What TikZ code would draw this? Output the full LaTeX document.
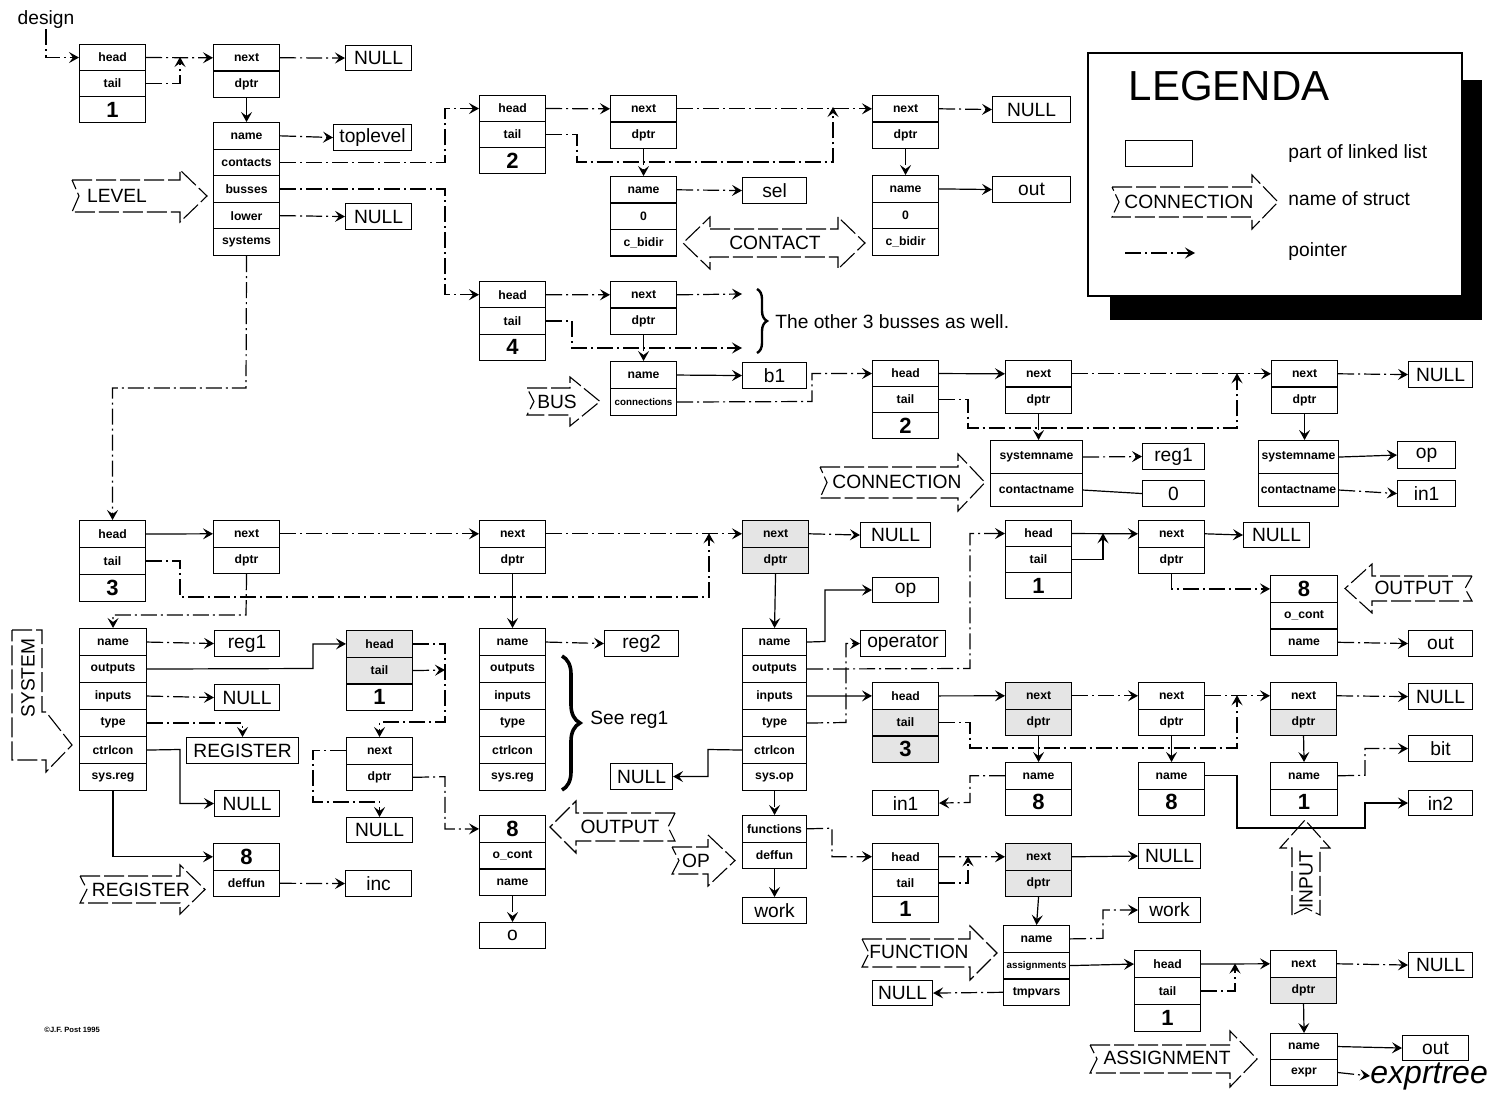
\documentclass[tikz,border=0pt]{standalone}
\usepackage{fontspec}
\setmainfont{Liberation Sans}
\usetikzlibrary{arrows.meta,calc,decorations.pathreplacing}
\pgfdeclarelayer{bg}
\pgfsetlayers{bg,main}
\newcommand\ffont{\fontsize{6.1}{7}\selectfont\bfseries}
\newcommand\sfont{\fontsize{4.9}{6}\selectfont\bfseries}
\newcommand\nfont{\fontsize{11}{12}\selectfont\bfseries}
\newcommand\vfont{\fontsize{9.6}{11}\selectfont}
\newcommand\cl[6]{\node[cell,minimum width=#4*0.5pt,minimum height=#5*0.5pt] (#1) at (#2,#3) {#6};}
\newcommand\hdr[5]{\cl{#1H}{#2}{#3}{66}{#5}{head}\cl{#1T}{#2}{#3+#5}{66}{#5}{tail}\cl{#1C}{#2}{#3+2*#5}{66}{#5}{\nfont #4}}
\newcommand\nd[3]{\cl{#1N}{#2}{#3}{66}{26.5}{next}\cl{#1D}{#2}{#3+26.5}{66}{26.5}{dptr}}
\newcommand\vb[6]{\node[vbox,minimum width=#4*0.5pt,minimum height=#5*0.5pt] (#1) at (#2,#3) {#6};}
\newcommand\rarr[6]{\draw[shp] (#1,#3) -- (#2,#3) -- (#2,#3-#5) -- (#6,{(#3+#4)/2}) -- (#2,#4+#5) -- (#2,#4) -- (#1,#4) -- ({#1+7},{(#3+#4)/2}) -- cycle;}
\newcommand\larr[6]{\draw[shp] (#1,#3) -- (#2,#3) -- (#2,#3-#5) -- (#6,{(#3+#4)/2}) -- (#2,#4+#5) -- (#2,#4) -- (#1,#4) -- ({#1-7},{(#3+#4)/2}) -- cycle;}
\tikzset{
  cell/.style={draw,line width=0.55pt,anchor=north west,inner sep=0pt,font=\ffont},
  vbox/.style={draw,line width=0.55pt,anchor=north west,inner sep=0pt,font=\vfont},
  lbl/.style={inner sep=0pt,font=\vfont},
  shp/.style={draw,line width=0.55pt,dash pattern=on 10pt off 2pt},
  ptr/.style={line width=0.6pt,dash pattern=on 8pt off 2pt on 1pt off 2pt,-{Stealth[length=5pt,width=5.5pt,inset=2pt]}},
  sptr/.style={line width=0.6pt,-{Stealth[length=5pt,width=5.5pt,inset=2pt]}},
  plain/.style={line width=0.6pt},
  brc/.style={decorate,decoration={brace,amplitude=#1}},
}
\begin{document}
\begin{tikzpicture}[x=0.5pt,y=-0.5pt]
\begin{pgfonlayer}{bg}
\fill[white] (0,0) rectangle (1499,1101);
\end{pgfonlayer}
\useasboundingbox (0,0) rectangle (1499,1101);

% ---------- legend ----------
\fill[black] (1110,80) rectangle (1482,320);
\draw[fill=white,line width=0.55pt] (1088,53) rectangle (1462,296);
\node[inner sep=0pt,font=\fontsize{21}{24}\selectfont] (legt) at (1229,86) {LEGENDA};
\node[draw,line width=0.55pt,minimum width=33.5pt,minimum height=13pt,anchor=north west,inner sep=0pt] (lgbox) at (1125,140) {};
\node[lbl,anchor=west] (lg1t) at (1288,154) {part of linked list};
\rarr{1112}{1252}{187}{217}{12}{1278}
\node[lbl] (lgconn) at (1189,202) {CONNECTION};
\node[lbl,anchor=west] (lg2t) at (1288,199) {name of struct};
\coordinate (lgp1) at (1125,253);
\coordinate (lgp2) at (1195,253);
\draw[ptr] (lgp1) -- (lgp2);
\node[lbl,anchor=west] (lg3t) at (1288,252) {pointer};

% ---------- top left: design / LEVEL ----------
\node[lbl] (design) at (46,20) {design};
\hdr{a}{79}{44}{1}{26}
\nd{b}{213}{44}
\vb{vNull1}{345}{45}{66}{25}{NULL}
\cl{lvName}{213}{122}{66}{26.6}{name}
\cl{lvCont}{213}{148.6}{66}{26.6}{contacts}
\cl{lvBus}{213}{175.2}{66}{26.6}{busses}
\cl{lvLow}{213}{201.8}{66}{26.6}{lower}
\cl{lvSys}{213}{228.4}{66}{26.6}{systems}
\vb{vTop}{333}{124}{78}{26}{toplevel}
\vb{vNull2}{345}{203}{66}{26}{NULL}
\rarr{72}{180}{180}{212}{10}{207}
\node[lbl] (llevel) at (117,196) {LEVEL};

% ---------- contacts ----------
\hdr{d}{479}{95}{2}{26}
\nd{e}{610}{95}
\cl{c1Name}{610}{176}{66}{26.5}{name}
\cl{c1Zero}{610}{202.5}{66}{26.5}{0}
\cl{c1Bid}{610}{229}{66}{26.5}{c\_bidir}
\vb{vSel}{742}{177}{64}{26}{sel}
\nd{f}{872}{95}
\vb{vNull3}{992}{96}{78}{26}{NULL}
\cl{c2Name}{872}{175}{66}{26.7}{name}
\cl{c2Zero}{872}{201.7}{66}{26.7}{0}
\cl{c2Bid}{872}{228.4}{66}{26.7}{c\_bidir}
\vb{vOut1}{992}{176}{78}{26}{out}
\draw[shp] (710,229) -- (838,229) -- (838,217) -- (865,243) -- (838,269) -- (838,257) -- (710,257) -- (710,269) -- (683,243) -- (710,217) -- cycle;
\node[lbl] (lcontact) at (775,243) {CONTACT};

% ---------- busses ----------
\hdr{g}{479}{281}{4}{26.3}
\nd{h}{610}{281}
\cl{busName}{610}{361}{66}{27}{name}
\cl{busConn}{610}{388}{66}{27}{\sfont connections}
\vb{vB1}{742}{362}{64}{26}{b1}
\rarr{527}{570}{388}{415}{11}{600}
\node[lbl] (lbus) at (557,402) {BUS};
\draw[brc=5pt,line width=1.2pt] (757,289) -- (757,353);
\node[lbl,anchor=west] (other) at (775,322) {The other 3 busses as well.};

% ---------- connections ----------
\hdr{j}{872}{360}{2}{26}
\nd{k}{1005}{360}
\nd{l}{1271}{360}
\vb{vNull4}{1408}{361}{64}{26}{NULL}
\cl{cn1Sys}{990}{440}{92}{33}{systemname}
\cl{cn1Con}{990}{473}{92}{33}{contactname}
\vb{vReg1b}{1142}{443}{62}{26}{reg1}
\vb{vZero}{1142}{480}{62}{26}{0}
\cl{cn2Sys}{1258}{440}{80}{33}{systemname}
\cl{cn2Con}{1258}{473}{80}{33}{contactname}
\vb{vOp2}{1397}{441}{58}{27}{op}
\vb{vIn1b}{1397}{480}{58}{26}{in1}
\rarr{820}{958}{467}{498}{13}{985}
\node[lbl] (lconn) at (897,482) {CONNECTION};

% ---------- systems ----------
\hdr{p}{79}{520}{3}{27}
\nd{q}{213}{520}
\nd{r}{479}{520}
\nd{s}{742}{520}
\vb{vNull5}{860}{522}{70}{25}{NULL}
\cl{s1Name}{79}{628}{67}{27}{name}
\cl{s1Out}{79}{655}{67}{27}{outputs}
\cl{s1In}{79}{682}{67}{27}{inputs}
\cl{s1Type}{79}{709}{67}{27}{type}
\cl{s1Ctrl}{79}{736}{67}{27}{ctrlcon}
\cl{s1Reg}{79}{763}{67}{27}{sys.reg}
\vb{vReg1}{214}{630}{65}{26}{reg1}
\vb{vNull6}{214}{684}{65}{26}{NULL}
\vb{vRegister}{186}{737}{112}{26}{REGISTER}
\vb{vNull7}{214}{790}{65}{26}{NULL}
\hdr{u}{346}{630}{1}{26.7}
\nd{w}{346}{737}
\vb{vNull8}{346}{817}{66}{25}{NULL}
\cl{rgNum}{213}{843}{66}{26.5}{\nfont 8}
\cl{rgDef}{213}{869.5}{66}{26.5}{deffun}
\vb{vInc}{345}{870}{66}{26}{inc}
\draw[shp] (12,630) -- (42,630) -- (42,712) -- (46,712) -- (72,745) -- (46,772) -- (46,760) -- (12,760) -- cycle;
\node[lbl,rotate=90] (lsystem) at (28,678) {SYSTEM};
\rarr{80}{180}{876}{903}{11}{205}
\node[lbl] (lregister) at (141,890) {REGISTER};

\cl{s2Name}{479}{628}{66}{27}{name}
\cl{s2Out}{479}{655}{66}{27}{outputs}
\cl{s2In}{479}{682}{66}{27}{inputs}
\cl{s2Type}{479}{709}{66}{27}{type}
\cl{s2Ctrl}{479}{736}{66}{27}{ctrlcon}
\cl{s2Reg}{479}{763}{66}{27}{sys.reg}
\vb{vReg2}{604}{630}{74}{26}{reg2}
\draw[brc=9pt,line width=1.8pt] (562,656) -- (562,790);
\node[lbl,anchor=west] (seereg) at (590,720) {See reg1};
\cl{o1Num}{479}{815}{66}{26.7}{\nfont 8}
\cl{o1Cont}{479}{841.7}{66}{26.7}{o\_cont}
\cl{o1Name}{479}{868.4}{66}{26.7}{name}
\vb{vO}{479}{922}{66}{26}{o}
\larr{675}{576}{813}{841}{12}{550}
\node[lbl] (loutput1) at (620,827) {OUTPUT};
\rarr{672}{708}{847}{874}{12}{735}
\node[lbl] (lop) at (696,861) {OP};

\cl{s3Name}{742}{628}{64}{27}{name}
\cl{s3Out}{742}{655}{64}{27}{outputs}
\cl{s3In}{742}{682}{64}{27}{inputs}
\cl{s3Type}{742}{709}{64}{27}{type}
\cl{s3Ctrl}{742}{736}{64}{27}{ctrlcon}
\cl{s3Op}{742}{763}{64}{27}{sys.op}
\vb{vNull9}{610}{763}{62}{26}{NULL}
\cl{opFun}{742}{815}{64}{26.5}{functions}
\cl{opDef}{742}{841.5}{64}{26.5}{deffun}
\vb{vWork1}{742}{897}{64}{26}{work}
\vb{vOp1}{872}{577}{66}{25}{op}
\vb{vOperator}{860}{630}{85}{26}{operator}
\hdr{ai}{872}{682}{3}{26.7}
\vb{vIn1a}{872}{790}{66}{25}{in1}
\hdr{fl}{872}{843}{1}{26.3}

% ---------- output list (right) ----------
\hdr{ol}{1005}{520}{1}{26}
\nd{ok}{1138}{520}
\vb{vNull10}{1243}{522}{66}{25}{NULL}
\cl{o2Num}{1270}{575}{67}{26.7}{\nfont 8}
\cl{o2Cont}{1270}{601.7}{67}{26.7}{o\_cont}
\cl{o2Name}{1270}{628.4}{67}{26.7}{name}
\vb{vOut2}{1408}{630}{64}{26}{out}
\larr{1472}{1372}{576}{601}{12}{1345}
\node[lbl] (loutput2) at (1414,588) {OUTPUT};

% ---------- input list ----------
\nd{i1}{1005}{682}
\nd{i2}{1138}{682}
\nd{i3}{1270}{682}
\vb{vNull11}{1408}{683}{64}{26}{NULL}
\cl{in1Name}{1005}{762}{66}{26.5}{name}
\cl{in1Num}{1005}{788.5}{66}{26.5}{\nfont 8}
\cl{in2Name}{1138}{762}{66}{26.5}{name}
\cl{in2Num}{1138}{788.5}{66}{26.5}{\nfont 8}
\cl{in3Name}{1270}{762}{67}{26.5}{name}
\cl{in3Num}{1270}{788.5}{67}{26.5}{\nfont 1}
\vb{vBit}{1408}{735}{64}{26}{bit}
\vb{vIn2}{1408}{790}{64}{25}{in2}
\draw[shp] (1292,915) -- (1292,848) -- (1280,848) -- (1305,820) -- (1330,848) -- (1320,848) -- (1320,915) -- (1306,908) -- cycle;
\node[lbl,rotate=90] (linput) at (1306,880) {INPUT};

% ---------- functions ----------
\nd{fn}{1005}{843}
\vb{vNull12}{1138}{843}{62}{25}{NULL}
\cl{fuName}{1003}{925}{66}{26.7}{name}
\cl{fuAsg}{1003}{951.7}{66}{26.7}{\sfont assignments}
\cl{fuTmp}{1003}{978.4}{66}{26.7}{tmpvars}
\vb{vWork2}{1138}{897}{62}{25}{work}
\vb{vNull13}{872}{980}{60}{25}{NULL}
\rarr{862}{970}{939}{967}{13}{997}
\node[lbl] (lfunction) at (919,952) {FUNCTION};
\hdr{al}{1134}{950}{1}{27}
\nd{an}{1270}{950}
\vb{vNull14}{1408}{952}{64}{25}{NULL}
\cl{asName}{1270}{1033}{67}{26}{name}
\cl{asExpr}{1270}{1059}{67}{26}{expr}
\vb{vOut3}{1402}{1035}{66}{25}{out}
\node[inner sep=0pt,font=\fontsize{16}{18}\selectfont\itshape,anchor=west] (exprtree) at (1370,1076) {exprtree};
\rarr{1090}{1230}{1045}{1073}{14}{1257}
\node[lbl] (lassign) at (1167,1058) {ASSIGNMENT};

\node[inner sep=0pt,font=\fontsize{3.8}{4}\selectfont\bfseries,anchor=west] (copy) at (44,1030) {\textcopyright J.F. Post 1995};

% ---------- gray cells ----------
\begin{pgfonlayer}{bg}
\foreach \n in {sN,sD,i1N,i1D,i3D,fnN,fnD,anD,aiT,aiC,uH,uT}
  \fill[black!10] (\n.north west) rectangle (\n.south east);
\end{pgfonlayer}

% ---------- coordinates ----------
\coordinate (ja) at (180,57);
\coordinate (bx) at (445,0);
\coordinate (c0) at (246,388);
\coordinate (c1) at (577,162);
\coordinate (jc) at (833,107);
\coordinate (c2) at (572,348);
\coordinate (brl) at (742,348);
\coordinate (bru) at (742,294);
\coordinate (c3) at (812,401.5);
\coordinate (c4) at (968,428);
\coordinate (jk) at (1237,373.25);
\coordinate (c5) at (180,597);
\coordinate (jr) at (709,533.25);
\coordinate (c6) at (246,615);
\coordinate (c7) at (313,668.5);
\coordinate (c9) at (180,749.5);
\coordinate (c10) at (445,722);
\coordinate (c11) at (445,670);
\coordinate (c12) at (313,802);
\coordinate (c13) at (445,776.75);
\coordinate (c14) at (825,641.5);
\coordinate (c15) at (846,722.5);
\coordinate (c16) at (970,668.5);
\coordinate (c17) at (708,749.5);
\coordinate (c18) at (832,828.25);
\coordinate (jo) at (1103,533.25);
\coordinate (c19) at (970,748);
\coordinate (ji) at (1237,695.25);
\coordinate (c20) at (970,802.5);
\coordinate (c21) at (1237,828);
\coordinate (c22) at (1365,828);
\coordinate (c23) at (1365,775.25);
\coordinate (jf) at (968,856.25);
\coordinate (c24) at (1103,938.35);
\coordinate (ja2) at (1235,963.5);

% ---------- connectors ----------
\draw[ptr] (design.south) |- (aH.west);
\draw[ptr] (aH.east) -- (bN.west);
\draw[ptr] (aT.east) -| (ja);
\draw[ptr] (bN.east) -- (vNull1.west);
\draw[sptr] (bD.south) -- (lvName.north);
\draw[ptr] (lvName.east) -- (vTop.west);
\draw[ptr] (lvCont.east) -| (bx |- dH.west) -- (dH.west);
\draw[ptr] (lvBus.east) -| (bx |- gH.west) -- (gH.west);
\draw[ptr] (lvLow.east) -- (vNull2.west);
\draw[ptr] (lvSys.south) -- (c0) -| (pH.north);

\draw[ptr] (dH.east) -- (eN.west);
\draw[ptr] (dT.east) -| (c1) -| (jc);
\draw[ptr] (eN.east) -- (fN.west);
\draw[ptr] (eD.south) -- (c1Name.north);
\draw[ptr] (c1Name.east) -- (vSel.west);
\draw[ptr] (fN.east) -- (vNull3.west);
\draw[ptr] (fD.south) -- (c2Name.north);
\draw[sptr] (c2Name.east) -- (vOut1.west);

\draw[ptr] (gH.east) -- (hN.west);
\draw[ptr] (gT.east) -| (c2) -- (brl);
\draw[ptr] (hN.east) -- (bru);
\draw[ptr] (hD.south) -- (busName.north);
\draw[sptr] (busName.east) -- (vB1.west);
\draw[ptr] (busConn.east) -- (c3) |- (jH.west);

\draw[sptr] (jH.east) -- (kN.west);
\draw[ptr] (jT.east) -| (c4) -| (jk);
\draw[ptr] (kN.east) -- (lN.west);
\draw[ptr] (lN.east) -- (vNull4.west);
\draw[ptr] (kD.south) -- (kD.south |- cn1Sys.north);
\draw[ptr] (cn1Sys.east) -- (vReg1b.west);
\draw[plain] (cn1Con.east) -- (vZero.west);
\draw[sptr] (lD.south) -- (lD.south |- cn2Sys.north);
\draw[sptr] (cn2Sys.east) -- (vOp2.west);
\draw[ptr] (cn2Con.east) -- (vIn1b.west);

\draw[sptr] (pH.east) -- (qN.west);
\draw[ptr] (qN.east) -- (rN.west);
\draw[ptr] (pT.east) -| (c5) -| (jr);
\draw[ptr] (rN.east) -- (sN.west);
\draw[ptr] (sN.east) -- (vNull5.west);
\draw[ptr] (qD.south) -- (c6) -| (s1Name.north);
\draw[ptr] (s1Name.east) -- (vReg1.west);
\draw[sptr] (s1Out.east) -- (c7) |- (uH.west);
\draw[ptr] (s1In.east) -- (vNull6.west);
\draw[ptr] (s1Type.east) -| (vRegister.north);
\draw[sptr] (s1Ctrl.east) -- (c9) |- (vNull7.west);
\draw[sptr] (s1Reg.south) |- (rgNum.west);
\draw[ptr] (rgDef.east) -- (vInc.west);
\draw[ptr] (uH.east) -| (c10) -| (wN.north);
\draw[ptr] (uT.east) -- (c11);
\draw[ptr] (wN.west) -| (c12) -| (vNull8.north);
\draw[ptr] (wD.east) -- (c13) |- (o1Num.west);

\draw[sptr] (rD.south) -- (s2Name.north);
\draw[ptr] (s2Name.east) -- (vReg2.west);
\draw[ptr] (o1Name.south) -- (vO.north);

\draw[sptr] (sD.south) -- (s3Name.north);
\draw[sptr] (s3Name.east) -- (c14) |- (vOp1.west);
\draw[ptr] (s3Type.east) -- (c15) |- (vOperator.west);
\draw[sptr] (s3In.east) -- (aiH.west);
\draw[ptr] (s3Out.east) -- (c16) |- (olH.west);
\draw[sptr] (s3Ctrl.west) -- (c17) |- (vNull9.east);
\draw[ptr] (s3Op.south) -- (opFun.north);
\draw[sptr] (opDef.south) -- (vWork1.north);
\draw[ptr] (opFun.east) -- (c18) |- (flH.west);

\draw[sptr] (olH.east) -- (okN.west);
\draw[sptr] (olT.east) -| (jo);
\draw[sptr] (okN.east) -- (vNull10.west);
\draw[ptr] (okD.south) |- (o2Num.west);
\draw[ptr] (o2Name.east) -- (vOut2.west);

\draw[sptr] (aiH.east) -- (i1N.west);
\draw[ptr] (i1N.east) -- (i2N.west);
\draw[ptr] (i2N.east) -- (i3N.west);
\draw[ptr] (i3N.east) -- (vNull11.west);
\draw[ptr] (aiT.east) -| (c19) -| (ji);
\draw[sptr] (i1D.south) -- (in1Name.north);
\draw[sptr] (i2D.south) -- (in2Name.north);
\draw[sptr] (i3D.south) -- (in3Name.north);
\draw[ptr] (in1Name.west) -| (c20) -- (vIn1a.east);
\draw[sptr] (in2Name.east) -| (c21) -- (c22) |- (vIn2.west);
\draw[ptr] (in3Name.east) -- (c23) |- (vBit.west);

\draw[ptr] (flH.east) -- (fnN.west);
\draw[ptr] (flT.east) -| (jf);
\draw[sptr] (fnN.east) -- (vNull12.west);
\draw[sptr] (fnD.south) -- (fuName.north);
\draw[ptr] (fuName.east) -- (c24) |- (vWork2.west);
\draw[sptr] (fuAsg.east) -- (alH.west);
\draw[ptr] (fuTmp.west) -- (vNull13.east);
\draw[sptr] (alH.east) -- (anN.west);
\draw[ptr] (alT.east) -| (ja2);
\draw[ptr] (anN.east) -- (vNull14.west);
\draw[sptr] (anD.south) -- (asName.north);
\draw[sptr] (asName.east) -- (vOut3.west);
\draw[ptr] (asExpr.east) -- (exprtree.west);
\end{tikzpicture}
\end{document}
